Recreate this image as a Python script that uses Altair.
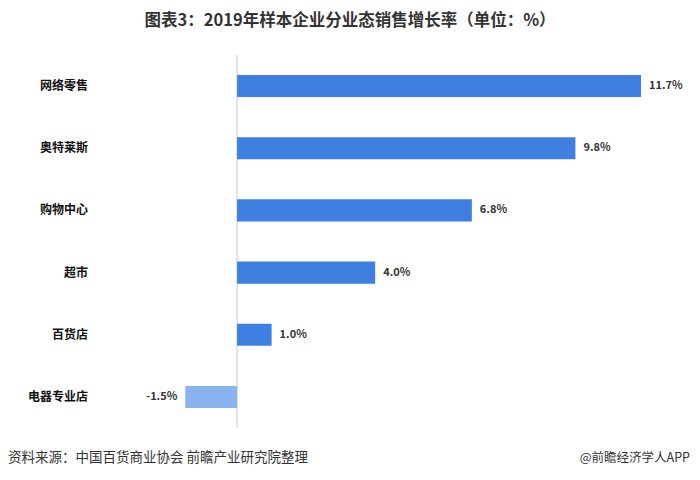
import altair as alt
import pandas as pd

categories = ["网络零售", "奥特莱斯", "购物中心", "超市", "百货店", "电器专业店"]
values = [11.7, 9.8, 6.8, 4.0, 1.0, -1.5]
labels = ["11.7%", "9.8%", "6.8%", "4.0%", "1.0%", "-1.5%"]

df = pd.DataFrame({"cat": categories, "val": values, "lab": labels})
df["sign"] = ["pos" if v >= 0 else "neg" for v in values]
df["zero"] = 0.0

FONT = "Noto Sans CJK SC"
W, H = 560, 373

xscale = alt.Scale(domain=[-3.97, 12.25], nice=False, zero=False)
yscale = alt.Scale(domain=categories, paddingInner=0.645, paddingOuter=0.32)

base = alt.Chart(df)

bars = base.mark_bar().encode(
    x=alt.X("val:Q", scale=xscale, axis=None),
    x2="zero:Q",
    y=alt.Y("cat:N", scale=yscale, axis=None),
    color=alt.Color("sign:N", scale=alt.Scale(domain=["pos", "neg"], range=["#3E80E1", "#8AB4F1"]),
                    legend=None),
)

zero = base.mark_rule(color="#e3e3e3", strokeWidth=2).encode(
    x=alt.X("zero:Q", scale=xscale, axis=None),
)

cat_text = base.mark_text(
    align="right", baseline="middle", font=FONT, fontSize=12, fontWeight="bold", color="#111111"
).encode(
    x=alt.value(-12),
    y=alt.Y("cat:N", scale=yscale, axis=None),
    text="cat:N",
)

pos_text = base.transform_filter("datum.val >= 0").mark_text(
    align="left", dx=8, font=FONT, fontSize=11, fontWeight="bold", color="#333333"
).encode(
    x=alt.X("val:Q", scale=xscale, axis=None),
    y=alt.Y("cat:N", scale=yscale, axis=None),
    text="lab:N",
)

neg_text = base.transform_filter("datum.val < 0").mark_text(
    align="right", dx=-8, font=FONT, fontSize=11, fontWeight="bold", color="#333333"
).encode(
    x=alt.X("val:Q", scale=xscale, axis=None),
    y=alt.Y("cat:N", scale=yscale, axis=None),
    text="lab:N",
)

src = alt.Chart(pd.DataFrame({"t": ["资料来源：中国百货商业协会 前瞻产业研究院整理"]})).mark_text(
    align="left", baseline="middle", font=FONT, fontSize=13.5, color="#333333"
).encode(
    x=alt.value(-92), y=alt.value(403),
    text="t:N",
)

brand = alt.Chart(pd.DataFrame({"t": ["@前瞻经济学人APP"]})).mark_text(
    align="right", baseline="middle", font=FONT, fontSize=12.5, color="#333333"
).encode(
    x=alt.value(590), y=alt.value(403),
    text="t:N",
)

chart = alt.layer(zero, bars, cat_text, pos_text, neg_text, src, brand).properties(
    width=W, height=H,
    title=alt.TitleParams("图表3：2019年样本企业分业态销售增长率（单位：%）",
                          font=FONT, fontSize=16.5, fontWeight="bold", color="#333333",
                          anchor="middle", dx=-30, offset=25),
    autosize=alt.AutoSizeParams(type="none"),
    padding={"left": 92, "top": 47, "right": 32, "bottom": 44},
).configure(background="white", view=alt.ViewConfig(stroke=None))

chart.save("out.html", embed_options={"renderer": "svg", "actions": False})
